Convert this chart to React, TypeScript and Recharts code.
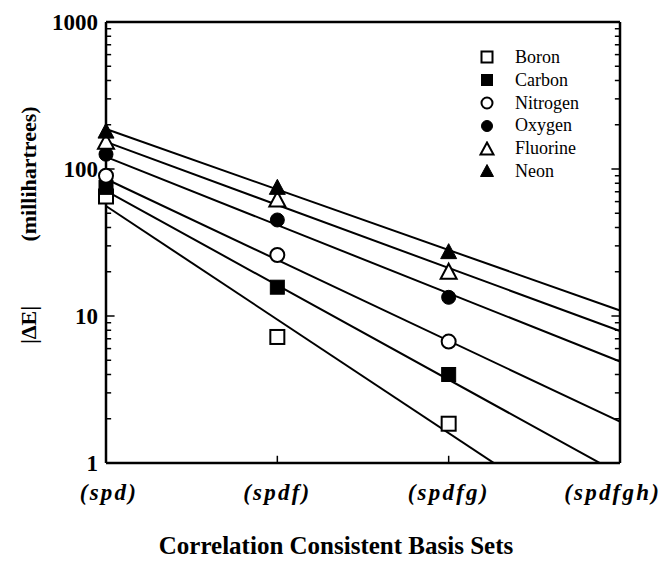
import { ComposedChart, Line, Scatter, XAxis, YAxis, Legend, ReferenceLine } from "recharts";

const basisSets = ["(spd)", "(spdf)", "(spdfg)", "(spdfgh)"];

// |ΔE| in millihartrees at (spd), (spdf), (spdfg)
const boron = [65, 7.2, 1.85];
const carbon = [75, 15.7, 4.0];
const nitrogen = [90, 26, 6.7];
const oxygen = [126, 45, 13.4];
const fluorine = [153, 62, 20];
const neon = [181, 75, 27.4];

// fitted lines: value at (spd) and at (spdfgh)
const boronFit = [56, 0.27];
const carbonFit = [71, 0.84];
const nitrogenFit = [85.5, 1.91];
const oxygenFit = [121, 4.9];
const fluorineFit = [153, 7.9];
const neonFit = [187, 10.9];

const yMajor = [1, 10, 100, 1000];
const yMinor = [1, 10, 100].flatMap((d) => [2, 3, 4, 5, 6, 7, 8, 9].map((m) => d * m));

// inward tick lengths, in axis units
const MINOR_LEN = 0.03;
const MAJOR_LEN = 0.05;
const X_TICK_TOP = 1.12;

const FONT = "'Liberation Serif', 'Times New Roman', serif";

type Kind = "openSquare" | "square" | "openCircle" | "circle" | "openTriangle" | "triangle";

const series: { name: string; values: number[]; fit: number[]; kind: Kind }[] = [
  { name: "Boron", values: boron, fit: boronFit, kind: "openSquare" },
  { name: "Carbon", values: carbon, fit: carbonFit, kind: "square" },
  { name: "Nitrogen", values: nitrogen, fit: nitrogenFit, kind: "openCircle" },
  { name: "Oxygen", values: oxygen, fit: oxygenFit, kind: "circle" },
  { name: "Fluorine", values: fluorine, fit: fluorineFit, kind: "openTriangle" },
  { name: "Neon", values: neon, fit: neonFit, kind: "triangle" },
];

const Marker = ({ cx, cy, kind, s }: { cx: number; cy: number; kind: Kind; s: number }) => {
  const open = kind.startsWith("open");
  const fill = open ? "#fff" : "#000";
  const sw = open ? 2 : 1;
  const h = s / 2;
  if (kind === "openSquare" || kind === "square")
    return <rect x={cx - h} y={cy - h} width={s} height={s} fill={fill} stroke="#000" strokeWidth={sw} />;
  if (kind === "openCircle" || kind === "circle")
    return <circle cx={cx} cy={cy} r={h} fill={fill} stroke="#000" strokeWidth={sw} />;
  return (
    <polygon
      points={`${cx},${cy - h - 1} ${cx + h + 1},${cy + h} ${cx - h - 1},${cy + h}`}
      fill={fill}
      stroke="#000"
      strokeWidth={sw}
      strokeLinejoin="miter"
    />
  );
};

const LeftTick = (props: any) => {
  const { x, y, payload } = props;
  return (
    <text x={x - 8} y={y} dy={8} textAnchor="end" fontFamily={FONT} fontWeight="bold" fontSize={23} fill="#000">
      {payload.value}
    </text>
  );
};

const BottomTick = (props: any) => {
  const { x, y, payload, index } = props;
  const last = index === 3;
  const tx = last ? 661 : index === 0 ? x + 3 : x;
  return (
    <text
      x={tx}
      y={y + 37}
      textAnchor={last ? "end" : "middle"}
      fontFamily={FONT}
      fontWeight="bold"
      fontStyle="italic"
      fontSize={23}
      letterSpacing={2.2}
      fill="#000"
    >
      {basisSets[payload.value]}
    </text>
  );
};

const LegendBox = () => (
  <div style={{ fontFamily: FONT, fontSize: 18, color: "#000", lineHeight: "22.8px" }}>
    {series.map((s) => (
      <div key={s.name} style={{ display: "flex", alignItems: "center", height: 22.8 }}>
        <svg width={28} height={16}>
          <Marker cx={10} cy={8} kind={s.kind} s={11} />
        </svg>
        <span style={{ marginLeft: 10 }}>{s.name}</span>
      </div>
    ))}
  </div>
);

const YLabel = () => (
  <g fontFamily={FONT} fontWeight="bold" fontSize={22} fill="#000">
    <text x={36} y={325} transform="rotate(-90 36 325)" textAnchor="middle">
      |ΔE|
    </text>
    <text x={36} y={174} transform="rotate(-90 36 174)" textAnchor="middle">
      (millihartrees)
    </text>
  </g>
);

const tickSegments = [
  ...yMinor.map((v) => ({ v, len: MINOR_LEN })),
  ...[10, 100].map((v) => ({ v, len: MAJOR_LEN })),
];

export default function App() {
  return (
    <div style={{ position: "absolute", left: 0, top: 0, width: 662, height: 564, background: "#fff" }}>
      <ComposedChart width={662} height={564} margin={{ top: 22, right: 42, bottom: 41, left: 0 }}>
        <XAxis
          xAxisId="b"
          type="number"
          dataKey="x"
          domain={[0, 3]}
          ticks={[0, 1, 2, 3]}
          height={60}
          tickSize={0}
          tickMargin={0}
          tickLine={false}
          tick={<BottomTick />}
          axisLine={{ stroke: "#000", strokeWidth: 2.5 }}
          label={{
            value: "Correlation Consistent Basis Sets",
            position: "insideBottom",
            offset: -31,
            fontFamily: FONT,
            fontWeight: "bold",
            fontSize: 25,
            fill: "#000",
            dx: -27,
          }}
        />
        <YAxis
          yAxisId="l"
          dataKey="y"
          scale="log"
          domain={[1, 1000]}
          allowDataOverflow
          ticks={yMajor}
          interval={0}
          width={106}
          tickSize={0}
          tickMargin={0}
          tickLine={false}
          tick={<LeftTick />}
          axisLine={{ stroke: "#000", strokeWidth: 2.5 }}
          label={{ content: () => <YLabel /> }}
        />
        {/* frame: top and right */}
        <ReferenceLine xAxisId="b" yAxisId="l" y={1000} stroke="#000" strokeWidth={2.5} />
        <ReferenceLine xAxisId="b" yAxisId="l" x={3} stroke="#000" strokeWidth={2.5} />
        {tickSegments.map(({ v, len }) => (
          <ReferenceLine
            key={`l-${v}`}
            xAxisId="b"
            yAxisId="l"
            segment={[
              { x: 0, y: v },
              { x: len, y: v },
            ]}
            stroke="#000"
            strokeWidth={1.5}
          />
        ))}
        {tickSegments.map(({ v, len }) => (
          <ReferenceLine
            key={`r-${v}`}
            xAxisId="b"
            yAxisId="l"
            segment={[
              { x: 3 - len, y: v },
              { x: 3, y: v },
            ]}
            stroke="#000"
            strokeWidth={1.5}
          />
        ))}
        {[1, 2].map((v) => (
          <ReferenceLine
            key={`xt-${v}`}
            xAxisId="b"
            yAxisId="l"
            segment={[
              { x: v, y: 1 },
              { x: v, y: X_TICK_TOP },
            ]}
            stroke="#000"
            strokeWidth={1.5}
          />
        ))}
        {series.map((s) => (
          <Line
            key={`fit-${s.name}`}
            xAxisId="b"
            yAxisId="l"
            data={[
              { x: 0, y: s.fit[0] },
              { x: 3, y: s.fit[1] },
            ]}
            dataKey="y"
            stroke="#000"
            strokeWidth={2}
            dot={false}
            activeDot={false}
            legendType="none"
            isAnimationActive={false}
          />
        ))}
        {series.map((s) => (
          <Scatter
            key={`pts-${s.name}`}
            name={s.name}
            xAxisId="b"
            yAxisId="l"
            data={s.values.map((v, i) => ({ x: i, y: v }))}
            dataKey="y"
            shape={(p: any) => <Marker cx={p.cx} cy={p.cy} kind={s.kind} s={14} />}
            isAnimationActive={false}
          />
        ))}
        <Legend
          layout="vertical"
          align="center"
          verticalAlign="middle"
          content={() => <LegendBox />}
          wrapperStyle={{ position: "absolute", left: 477, top: 46, width: 130 }}
        />
      </ComposedChart>
    </div>
  );
}
